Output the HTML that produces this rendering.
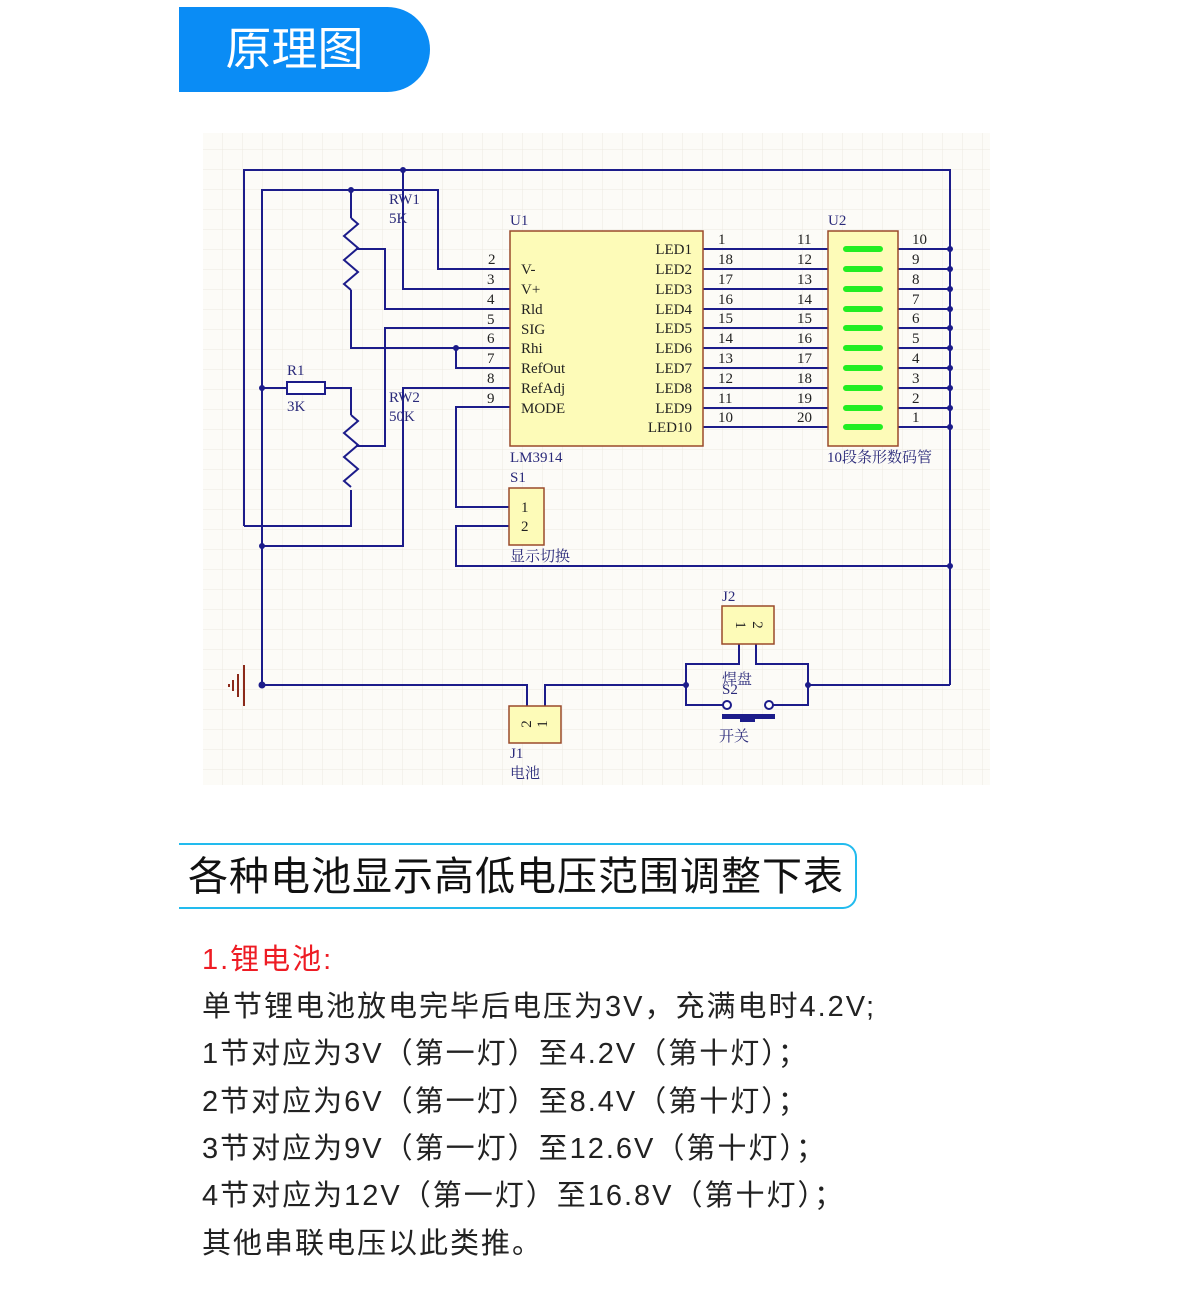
<!DOCTYPE html>
<html><head><meta charset="utf-8"><style>
body{margin:0;width:1189px;height:1289px;background:#fff;position:relative;overflow:hidden;font-family:"Liberation Sans","Noto Sans CJK SC",sans-serif}
.pill{position:absolute;left:179px;top:7px;width:251px;height:85px;background:#0a8cf5;border-radius:0 43px 43px 0;color:#fff;font-size:46px;line-height:85px;text-align:center;box-sizing:border-box;padding-right:20px}
.t2{position:absolute;left:179px;top:843px;width:678px;height:66px;border:2px solid #22bbee;border-left:none;border-radius:0 14px 14px 0;box-sizing:border-box;font-size:40px;line-height:64px;padding-left:9px;color:#111;white-space:nowrap;letter-spacing:1px}
.ln{position:absolute;left:202px;font-size:29px;color:#222;white-space:nowrap;line-height:34px;letter-spacing:2px}
svg text{font-family:"Liberation Serif","Noto Serif CJK SC",serif}
</style></head><body>
<div class="pill">原理图</div>
<svg style="position:absolute;left:0;top:0" width="1189" height="820">
<defs><pattern id="g" width="20" height="20" patternUnits="userSpaceOnUse" x="3" y="10"><path d="M20 0V20M0 20H20" stroke="#ece8e0" stroke-width="1" fill="none"/></pattern></defs>
<rect x="203" y="133" width="787" height="652" fill="#fcfbf7"/>
<rect x="203" y="133" width="787" height="652" fill="url(#g)"/>
<g stroke="#1c1c8a" stroke-width="2" fill="none">
<path d="M244 526V170H950V685"/>
<path d="M403 170V289H510"/>
<path d="M262 685V190H438V269H510"/>
<path d="M351 190V218"/>
<path d="M351 290V348H510"/>
<path d="M356 249H385V309H510"/>
<path d="M456 348V368H510"/>
<path d="M510 328H385V446H356"/>
<path d="M510 388H403V546H262"/>
<path d="M510 407H456V507H510"/>
<path d="M510 526H456V566H950"/>
<path d="M262 388H287M325 388H351V415"/>
<path d="M351 490V526H244"/>
<path d="M262 685H527V706M545 706V685H686V664H739V644M756 644V664H808V685H950"/>
<path d="M686 685V705H723M773 705H808V685"/>
<path d="M703 249H828M703 269H828M703 289H828M703 309H828M703 328H828M703 348H828M703 368H828M703 388H828M703 408H828M703 427H828"/>
<path d="M898 249H950M898 269H950M898 289H950M898 309H950M898 328H950M898 348H950M898 368H950M898 388H950M898 408H950M898 427H950"/>
<path d="M351 218l7 6-14 12 14 12-14 12 14 12-14 12 7 6" stroke-width="2"/>
<path d="M351 415l7 6-14 12 14 12-14 12 14 12-14 12 7 6"/>
<circle cx="727" cy="705" r="4" fill="#fff"/><circle cx="769" cy="705" r="4" fill="#fff"/>
</g>
<g fill="#1c1c8a">
<circle cx="403" cy="170" r="3"/><circle cx="351" cy="190" r="3"/><circle cx="456" cy="348" r="3"/><circle cx="262" cy="388" r="3"/><circle cx="262" cy="546" r="3"/><circle cx="262" cy="685" r="3.5"/><circle cx="950" cy="566" r="3"/><circle cx="686" cy="685" r="3"/><circle cx="808" cy="685" r="3"/>
<circle cx="950" cy="249" r="3"/><circle cx="950" cy="269" r="3"/><circle cx="950" cy="289" r="3"/><circle cx="950" cy="309" r="3"/><circle cx="950" cy="328" r="3"/><circle cx="950" cy="348" r="3"/><circle cx="950" cy="368" r="3"/><circle cx="950" cy="388" r="3"/><circle cx="950" cy="408" r="3"/><circle cx="950" cy="427" r="3"/>
<rect x="722" y="714" width="53" height="5"/><rect x="740" y="714" width="15" height="8"/>
</g>
<rect x="287" y="382" width="38" height="12" fill="#fff" stroke="#1c1c8a" stroke-width="2"/>
<g stroke="#8b2a1a" stroke-width="2"><path d="M244 665V706M238 674V697M233 680V691M229 684V687"/></g>
<g fill="#fdfbb8" stroke="#9a4a2a" stroke-width="1.5">
<rect x="510" y="231" width="193" height="215"/>
<rect x="828" y="231" width="70" height="215"/>
<rect x="509" y="488" width="35" height="57"/>
<rect x="509" y="706" width="52" height="37"/>
<rect x="722" y="606" width="52" height="38"/>
</g>
<g stroke="#22ee22" stroke-width="6" stroke-linecap="round">
<path d="M846 249H880M846 269H880M846 289H880M846 309H880M846 328H880M846 348H880M846 368H880M846 388H880M846 408H880M846 427H880"/>
</g>
<g font-size="15" fill="#222">
<text x="488" y="264">2</text><text x="487" y="284">3</text><text x="487" y="304">4</text><text x="487" y="324">5</text><text x="487" y="343">6</text><text x="487" y="363">7</text><text x="487" y="383">8</text><text x="487" y="403">9</text>
<text x="521" y="274">V-</text><text x="521" y="294">V+</text><text x="521" y="314">Rld</text><text x="521" y="334">SIG</text><text x="521" y="353">Rhi</text><text x="521" y="373">RefOut</text><text x="521" y="393">RefAdj</text><text x="521" y="413">MODE</text>
<g text-anchor="end"><text x="692" y="254">LED1</text><text x="692" y="274">LED2</text><text x="692" y="294">LED3</text><text x="692" y="314">LED4</text><text x="692" y="333">LED5</text><text x="692" y="353">LED6</text><text x="692" y="373">LED7</text><text x="692" y="393">LED8</text><text x="692" y="413">LED9</text><text x="692" y="432">LED10</text></g>
<text x="718" y="244">1</text><text x="718" y="264">18</text><text x="718" y="284">17</text><text x="718" y="304">16</text><text x="718" y="323">15</text><text x="718" y="343">14</text><text x="718" y="363">13</text><text x="718" y="383">12</text><text x="718" y="403">11</text><text x="718" y="422">10</text>
<text x="797" y="244">11</text><text x="797" y="264">12</text><text x="797" y="284">13</text><text x="797" y="304">14</text><text x="797" y="323">15</text><text x="797" y="343">16</text><text x="797" y="363">17</text><text x="797" y="383">18</text><text x="797" y="403">19</text><text x="797" y="422">20</text>
<text x="912" y="244">10</text><text x="912" y="264">9</text><text x="912" y="284">8</text><text x="912" y="304">7</text><text x="912" y="323">6</text><text x="912" y="343">5</text><text x="912" y="363">4</text><text x="912" y="383">3</text><text x="912" y="403">2</text><text x="912" y="422">1</text>
<text x="521" y="512">1</text><text x="521" y="531">2</text>
<text x="531" y="724" transform="rotate(-90 531 724)" text-anchor="middle">2</text><text x="547" y="724" transform="rotate(-90 547 724)" text-anchor="middle">1</text>
<text x="736" y="625" transform="rotate(90 736 625)" text-anchor="middle">1</text><text x="753" y="625" transform="rotate(90 753 625)" text-anchor="middle">2</text>
</g>
<g font-size="15" fill="#2a2a7a">
<text x="389" y="204">RW1</text><text x="389" y="223">5K</text><text x="389" y="402">RW2</text><text x="389" y="421">50K</text>
<text x="287" y="375">R1</text><text x="287" y="411">3K</text>
<text x="510" y="225">U1</text><text x="828" y="225">U2</text><text x="510" y="462">LM3914</text><text x="827" y="462">10段条形数码管</text>
<text x="510" y="482">S1</text><text x="510" y="561">显示切换</text><text x="722" y="601">J2</text>
<text x="722" y="684">焊盘</text><text x="722" y="694">S2</text><text x="719" y="741">开关</text>
<text x="510" y="758">J1</text><text x="510" y="778">电池</text>
</g>
</svg>
<div class="t2">各种电池显示高低电压范围调整下表</div>
<div class="ln" style="top:943px;color:#ee1c24">1.锂电池:</div>
<div class="ln" style="top:990px">单节锂电池放电完毕后电压为3V，充满电时4.2V;</div>
<div class="ln" style="top:1037px">1节对应为3V（第一灯）至4.2V（第十灯）；</div>
<div class="ln" style="top:1085px">2节对应为6V（第一灯）至8.4V（第十灯）；</div>
<div class="ln" style="top:1132px">3节对应为9V（第一灯）至12.6V（第十灯）；</div>
<div class="ln" style="top:1179px">4节对应为12V（第一灯）至16.8V（第十灯）；</div>
<div class="ln" style="top:1227px">其他串联电压以此类推。</div>
</body></html>
